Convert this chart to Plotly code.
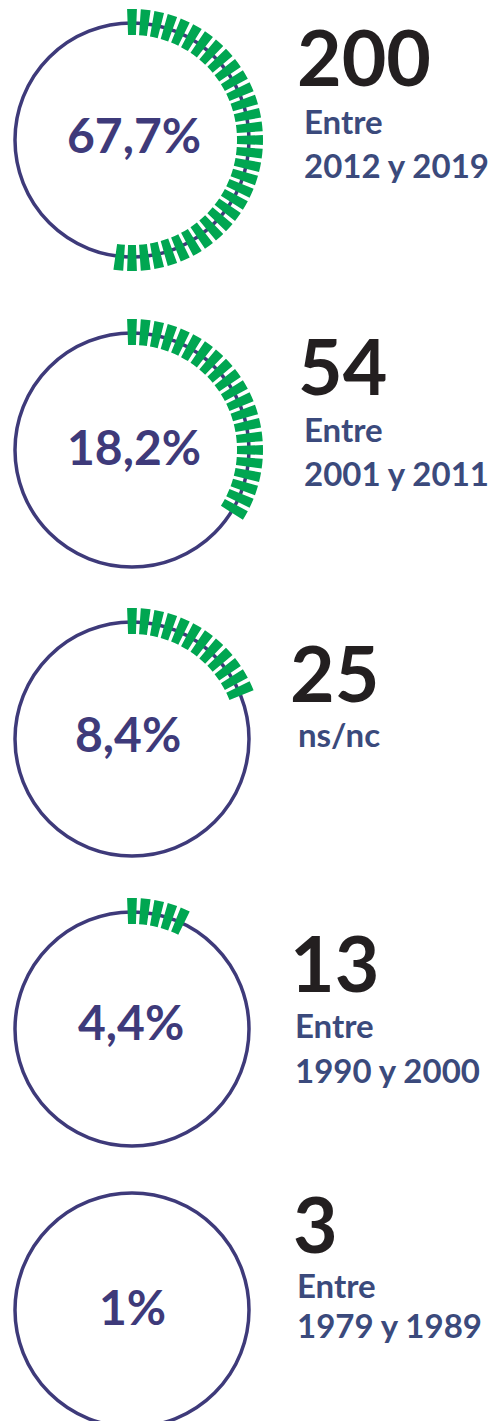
import plotly.graph_objects as go

W, H = 497, 1421

# DATA -------------------------------------------------------------
pct_labels = ["67,7%", "18,2%", "8,4%", "4,4%", "1%"]
counts = ["200", "54", "25", "13", "3"]
line1 = ["Entre", "Entre", "ns/nc", "Entre", "Entre"]
line2 = ["2012 y 2019", "2001 y 2011", "", "1990 y 2000", "1979 y 1989"]
tick_counts = [32, 21, 12, 5, 0]

# LAYOUT CONSTANTS (pixels, from top-left) ---------------------------
cx, ring_r = 132, 117
cy = [140, 450, 739, 1029, 1310]
num_base = [86, 395, 702, 992, 1253]
num_x = [296, 297, 289, 289, 292]
l1_base = [134, 442, 747, 1038, 1298]
l2_base = [178, 486, None, 1083, 1338]
txt_x = [303, 303, 297, 294, 296]
pct_base = [153, 465, 752, 1040, 1325]
pct_x = [134, 134, 128, 131, 132]

NAVY = "#3e3a7a"
SLATE = "#3b4a7c"
GREEN = "#00a651"
BLACK = "#231f20"
FONT = "Lato"

step_deg = 6.0
tick_w = 4.3
tick_in, tick_len = 105, 26
R = 132
LINE_FS = 33


def px(x):
    return x / W


def py(y):
    return 1 - y / H


fig = go.Figure()
layout = dict()

for i in range(5):
    # ring
    fig.add_shape(type="circle", xref="paper", yref="paper",
                  x0=px(cx - ring_r), x1=px(cx + ring_r),
                  y0=py(cy[i] + ring_r), y1=py(cy[i] - ring_r),
                  line=dict(color=NAVY, width=3.5), layer="below")

    # green ticks
    if tick_counts[i] > 0:
        pid = "polar" if i == 0 else f"polar{i + 1}"
        n = tick_counts[i]
        fig.add_trace(go.Barpolar(
            theta=[k * step_deg for k in range(n)],
            r=[tick_len] * n,
            base=tick_in,
            width=tick_w,
            marker=dict(color=GREEN, line=dict(width=0)),
            subplot=pid, hoverinfo="skip", showlegend=False,
        ))
        layout[pid] = dict(
            domain=dict(x=[px(cx - R), px(cx + R)],
                        y=[py(cy[i] + R), py(cy[i] - R)]),
            bgcolor="rgba(0,0,0,0)",
            radialaxis=dict(range=[0, R], visible=False),
            angularaxis=dict(visible=False, rotation=90, direction="clockwise"),
            hole=0,
        )

    # percentage
    fig.add_annotation(text=pct_labels[i], x=px(pct_x[i]), y=py(pct_base[i] - 0.387 * 48),
                       xref="paper", yref="paper", xanchor="center", yanchor="middle",
                       showarrow=False,
                       font=dict(family=FONT, size=48, color=NAVY, weight="bold"))
    # count
    fig.add_annotation(text=counts[i], x=px(num_x[i]), y=py(num_base[i] - 0.387 * 77),
                       xref="paper", yref="paper", xanchor="left", yanchor="middle",
                       showarrow=False, borderpad=0,
                       font=dict(family=FONT, size=77, color=BLACK, weight="bold"))
    # period lines
    fig.add_annotation(text=line1[i], x=px(txt_x[i]), y=py(l1_base[i] - 0.387 * LINE_FS),
                       xref="paper", yref="paper", xanchor="left", yanchor="middle",
                       showarrow=False, borderpad=0,
                       font=dict(family=FONT, size=LINE_FS, color=SLATE, weight="bold"))
    if line2[i]:
        fig.add_annotation(text=line2[i], x=px(txt_x[i]), y=py(l2_base[i] - 0.387 * LINE_FS),
                           xref="paper", yref="paper", xanchor="left", yanchor="middle",
                           showarrow=False, borderpad=0,
                           font=dict(family=FONT, size=LINE_FS, color=SLATE, weight="bold"))

fig.update_layout(
    width=W, height=H,
    margin=dict(l=0, r=0, t=0, b=0),
    paper_bgcolor="white", plot_bgcolor="white",
    showlegend=False,
    **layout,
)

# page has a default 8px body margin; remove it so the figure sits at 0,0
fig.write_html("out.html", config={"displayModeBar": False},
               post_script="document.body.style.margin='0px';")
